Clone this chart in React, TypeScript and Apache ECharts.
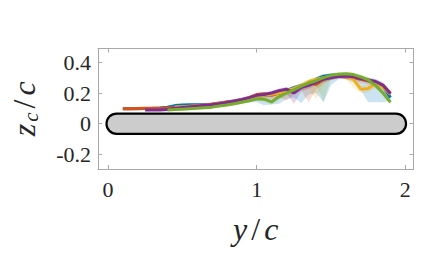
import React, { useEffect, useRef } from "react";
import * as echarts from "echarts";

// span positions y/c
const xs = [0.10,0.15,0.20,0.25,0.30,0.35,0.40,0.45,0.50,0.55,0.60,0.65,0.70,0.75,0.80,0.85,0.90,0.95,1.00,1.05,1.10,1.15,1.20,1.25,1.30,1.35,1.40,1.45,1.50,1.55,1.60,1.65,1.70,1.75,1.80,1.85,1.90];

const blueVal = [0.097,0.098,0.098,0.099,0.100,0.103,0.108,0.118,0.122,0.123,0.123,0.124,0.126,0.130,0.137,0.143,0.152,0.163,0.178,0.185,0.190,0.200,0.215,0.235,0.250,0.260,0.290,0.310,0.315,0.318,0.315,0.305,0.295,0.280,0.270,0.245,0.170];
const blueLo  = [0.090,0.091,0.091,0.092,0.093,0.095,0.099,0.108,0.113,0.114,0.114,0.115,0.116,0.120,0.126,0.130,0.136,0.140,0.140,0.120,0.125,0.130,0.160,0.170,0.135,0.190,0.200,0.140,0.250,0.290,0.290,0.270,0.220,0.140,0.140,0.140,0.150];
const blueHi  = [0.104,0.105,0.105,0.106,0.107,0.110,0.115,0.124,0.128,0.129,0.130,0.131,0.133,0.137,0.145,0.152,0.161,0.172,0.188,0.196,0.202,0.212,0.228,0.248,0.262,0.275,0.302,0.322,0.328,0.332,0.330,0.322,0.315,0.300,0.292,0.270,0.195];

const orangeVal = [0.097,0.098,0.099,0.100,0.100,0.101,0.103,0.105,0.108,0.112,0.117,0.122,0.128,0.135,0.142,0.148,0.155,0.170,0.190,0.195,0.185,0.200,0.210,0.220,0.245,0.270,0.255,0.290,0.305,0.310,0.305,0.300,0.290,0.280,0.270,0.250,0.200];
const orangeLo  = [0.090,0.091,0.092,0.093,0.093,0.094,0.096,0.098,0.100,0.104,0.108,0.113,0.118,0.124,0.130,0.136,0.142,0.152,0.165,0.170,0.160,0.175,0.150,0.190,0.215,0.140,0.225,0.260,0.285,0.295,0.290,0.280,0.265,0.255,0.245,0.225,0.180];
const orangeHi  = [0.104,0.105,0.106,0.107,0.107,0.108,0.110,0.112,0.116,0.120,0.126,0.131,0.138,0.145,0.153,0.160,0.168,0.182,0.200,0.206,0.198,0.212,0.224,0.236,0.258,0.282,0.272,0.302,0.318,0.322,0.318,0.312,0.304,0.295,0.285,0.266,0.215];

const yellowVal = [null,null,null,null,null,null,null,0.110,0.110,0.114,0.117,0.120,0.126,0.133,0.140,0.147,0.155,0.165,0.177,0.185,0.192,0.200,0.215,0.230,0.250,0.275,0.290,0.300,0.310,0.318,0.312,0.290,0.225,0.230,0.262,0.240,0.190];
const yellowLo  = [null,null,null,null,null,null,null,0.102,0.102,0.106,0.109,0.112,0.117,0.123,0.130,0.136,0.143,0.150,0.160,0.165,0.170,0.175,0.190,0.200,0.215,0.230,0.160,0.260,0.285,0.300,0.290,0.240,0.200,0.205,0.230,0.215,0.175];
const yellowHi  = [null,null,null,null,null,null,null,0.117,0.118,0.122,0.125,0.128,0.135,0.142,0.150,0.158,0.166,0.177,0.190,0.198,0.205,0.214,0.228,0.244,0.264,0.288,0.304,0.314,0.324,0.332,0.326,0.308,0.250,0.255,0.280,0.258,0.205];

const purpleVal = [null,null,null,0.090,0.090,0.090,0.092,0.100,0.105,0.110,0.115,0.120,0.125,0.132,0.140,0.148,0.158,0.170,0.185,0.190,0.200,0.215,0.225,0.200,0.235,0.250,0.270,0.290,0.300,0.308,0.310,0.305,0.295,0.285,0.275,0.250,0.196];
const purpleLo  = [null,null,null,0.084,0.084,0.084,0.086,0.093,0.098,0.103,0.107,0.112,0.116,0.123,0.130,0.137,0.146,0.157,0.170,0.172,0.180,0.190,0.200,0.130,0.210,0.228,0.250,0.272,0.285,0.294,0.296,0.290,0.278,0.268,0.256,0.232,0.180];
const purpleHi  = [null,null,null,0.096,0.096,0.096,0.098,0.107,0.112,0.117,0.123,0.128,0.134,0.141,0.150,0.159,0.170,0.182,0.198,0.204,0.214,0.229,0.240,0.222,0.250,0.264,0.284,0.304,0.314,0.322,0.324,0.320,0.310,0.300,0.290,0.266,0.212];

const greenVal = [null,null,null,null,null,null,0.090,0.092,0.095,0.098,0.100,0.104,0.108,0.115,0.122,0.130,0.140,0.150,0.163,0.160,0.142,0.175,0.200,0.220,0.245,0.265,0.280,0.300,0.315,0.322,0.325,0.320,0.305,0.285,0.250,0.200,0.140];
const greenLo  = [null,null,null,null,null,null,0.084,0.086,0.089,0.092,0.094,0.097,0.101,0.107,0.113,0.120,0.129,0.138,0.150,0.145,0.125,0.155,0.180,0.200,0.225,0.245,0.255,0.145,0.295,0.305,0.310,0.305,0.290,0.265,0.230,0.180,0.125];
const greenHi  = [null,null,null,null,null,null,0.096,0.098,0.101,0.104,0.107,0.111,0.115,0.123,0.131,0.140,0.151,0.162,0.176,0.174,0.158,0.190,0.214,0.234,0.260,0.280,0.296,0.315,0.330,0.336,0.338,0.334,0.320,0.302,0.268,0.218,0.156];

const seriesNames = ["s1", "s2", "s3", "s4", "s5"];
const seriesColors = ["#0072BD", "#D95319", "#EDB120", "#7E2F8E", "#77AC30"];
const seriesVals = [blueVal, orangeVal, yellowVal, purpleVal, greenVal];
const seriesLo = [blueLo, orangeLo, yellowLo, purpleLo, greenLo];
const seriesHi = [blueHi, orangeHi, yellowHi, purpleHi, greenHi];

// flat plate (wing) outline in y/c, z_c/c
const foilSpan = [-0.01, 2.005];
const foilHalfThickness = 0.066;

const xTicks = [0, 1, 2];
const yTicks = [-0.2, 0, 0.2, 0.4];

const SERIF = "'Liberation Serif', 'Times New Roman', serif";

export default function App() {
  const ref = useRef<HTMLDivElement>(null);
  useEffect(() => {
    if (!ref.current) return;
    const chart = echarts.init(ref.current, undefined, { renderer: "svg" });

    const bandSeries = seriesNames.map((name, k) => {
      const rows: number[][] = [];
      xs.forEach((x, i) => {
        const lo = seriesLo[k][i];
        const hi = seriesHi[k][i];
        if (lo != null && hi != null) rows.push([x, lo, hi]);
      });
      return {
        type: "custom",
        name: name + "band",
        silent: true,
        z: 1,
        data: rows,
        encode: { x: 0, y: [1, 2] },
        renderItem: (params: any, api: any) => {
          if (params.dataIndex !== 0) return { type: "group", children: [] };
          const upper = rows.map((r) => api.coord([r[0], r[2]]));
          const lower = rows.map((r) => api.coord([r[0], r[1]])).reverse();
          return {
            type: "polygon",
            shape: { points: upper.concat(lower) },
            style: { fill: seriesColors[k], opacity: 0.2, stroke: "none" },
          };
        },
      };
    });

    const lineSeries = seriesNames.map((name, k) => ({
      type: "line",
      name,
      z: 3,
      showSymbol: false,
      symbol: "none",
      data: xs
        .map((x, i) => [x, seriesVals[k][i]])
        .filter((p) => p[1] != null),
      lineStyle: { color: seriesColors[k], width: 3 },
      itemStyle: { color: seriesColors[k] },
    }));

    const foilSeries = {
      type: "custom",
      name: "foil",
      silent: true,
      z: 2,
      data: [[foilSpan[0], -foilHalfThickness, foilSpan[1], foilHalfThickness]],
      encode: { x: [0, 2], y: [1, 3] },
      renderItem: (params: any, api: any) => {
        const p0 = api.coord([api.value(0), api.value(3)]);
        const p1 = api.coord([api.value(2), api.value(1)]);
        const h = p1[1] - p0[1];
        return {
          type: "rect",
          shape: { x: p0[0], y: p0[1], width: p1[0] - p0[0], height: h, r: h / 2 },
          style: { fill: "#cccccc", stroke: "#000000", lineWidth: 2.2 },
        };
      },
    };

    const axisColor = "#a8a8a8";
    const baseX = {
      type: "value",
      min: -0.067,
      max: 2.055,
      splitLine: { show: false },
      axisLine: { show: true, onZero: false, lineStyle: { color: axisColor, width: 1 } },
      axisTick: { show: true, inside: true, length: 4, customValues: xTicks, lineStyle: { color: axisColor } },
    };
    const baseY = {
      type: "value",
      min: -0.295,
      max: 0.49,
      splitLine: { show: false },
      axisLine: { show: true, onZero: false, lineStyle: { color: axisColor, width: 1 } },
      axisTick: { show: true, inside: true, length: 4, customValues: yTicks, lineStyle: { color: axisColor } },
    };

    const ttl = { fontFamily: SERIF, color: "#262626", fontSize: 32, padding: [0, 2, 0, 2] };

    chart.setOption({
      animation: false,
      textStyle: { fontFamily: SERIF },
      grid: { left: 95.5, right: 25.5, top: 48.5, bottom: 96, containLabel: false },
      xAxis: [
        {
          ...baseX,
          position: "bottom",
          axisLabel: {
            customValues: xTicks,
            color: "#262626",
            fontFamily: SERIF,
            fontSize: 22,
            margin: 9,
          },
          name: "{i|y}{n|/}{i|c}",
          nameLocation: "middle",
          nameGap: 44,
          nameTextStyle: {
            fontFamily: SERIF,
            rich: {
              i: { ...ttl, fontStyle: "italic" },
              n: { ...ttl },
            },
          },
        },
        { ...baseX, position: "top", axisLabel: { show: false } },
      ],
      yAxis: [
        {
          ...baseY,
          position: "left",
          axisLabel: {
            customValues: yTicks,
            color: "#262626",
            fontFamily: SERIF,
            fontSize: 22,
            margin: 7,
          },
          name: "{i|z}{s|c}{n|/}{i|c}",
          nameLocation: "middle",
          nameGap: 57,
          nameRotate: 90,
          nameTextStyle: {
            fontFamily: SERIF,
            rich: {
              i: { ...ttl, fontStyle: "italic", lineHeight: 34 },
              s: { fontFamily: SERIF, fontStyle: "italic", fontSize: 21, color: "#262626", verticalAlign: "bottom", lineHeight: 34, padding: [11, 2, 0, 0] },
              n: { ...ttl, lineHeight: 34 },
            },
          },
        },
        { ...baseY, position: "right", axisLabel: { show: false } },
      ],
      series: [...bandSeries, foilSeries, ...lineSeries],
    });
    return () => chart.dispose();
  }, []);
  return (
    <div
      ref={ref}
      style={{ position: "fixed", left: 0, top: 0, width: 439, height: 265, background: "#ffffff" }}
    />
  );
}
